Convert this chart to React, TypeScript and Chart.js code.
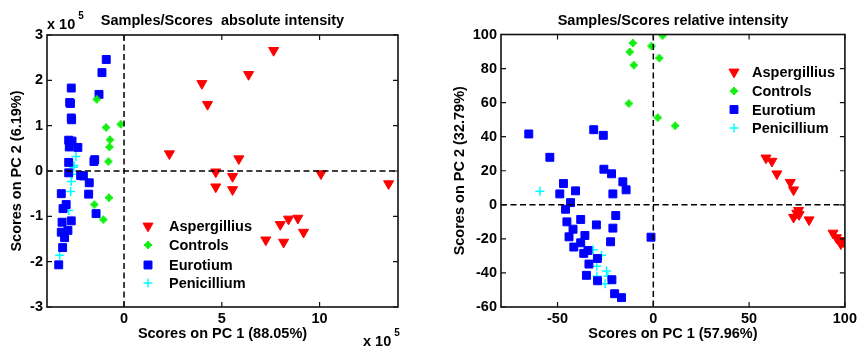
import React, { useEffect, useRef } from 'react';
import { Chart, registerables } from 'chart.js';

Chart.register(...registerables);

// ---------- DATA ----------
const seriesNames = ['Aspergillius', 'Controls', 'Eurotium', 'Penicillium'];

// Absolute intensity (values in units of 10^5)
const absAspergillius: number[][] = [
  [7.65, 2.66], [6.37, 2.13], [3.98, 1.93], [4.27, 1.47], [2.32, 0.38], [5.87, 0.27],
  [4.69, -0.02], [5.55, -0.12], [10.07, -0.06], [4.69, -0.35], [5.55, -0.41], [13.53, -0.28],
  [7.99, -1.18], [8.41, -1.06], [8.89, -1.04], [9.18, -1.35], [7.25, -1.52], [8.16, -1.57],
];
const absControls: number[][] = [
  [-1.4, 1.58], [-0.92, 0.96], [-0.17, 1.03], [-0.72, 0.69], [-0.75, 0.53], [-0.8, 0.21],
  [-0.77, -0.59], [-1.52, -0.74], [-1.06, -1.07],
];
const absEurotium: number[][] = [
  [-0.91, 2.46], [-1.13, 2.17], [-1.28, 1.69], [-2.7, 1.83], [-2.78, 1.51], [-2.74, 1.49],
  [-2.7, 1.17], [-2.68, 1.13], [-2.83, 0.68], [-2.66, 0.66], [-2.8, 0.53], [-2.36, 0.52],
  [-2.83, 0.19], [-1.5, 0.25], [-1.54, 0.21], [-2.83, -0.04], [-2.22, -0.1], [-2.08, -0.11],
  [-1.78, -0.26], [-3.21, -0.5], [-1.81, -0.51], [-2.96, -0.74], [-3.12, -0.83], [-1.43, -0.94],
  [-3.17, -1.13], [-2.7, -1.1], [-3.21, -1.35], [-2.87, -1.31], [-3.04, -1.47], [-3.14, -1.69],
  [-3.34, -2.07],
];
const absPenicillium: number[][] = [
  [-2.46, 0.32], [-2.56, 0.12], [-2.58, 0.08], [-2.66, -0.07], [-2.7, -0.23], [-2.73, -0.45],
  [-2.83, -0.87], [-3.29, -1.86],
];
const absXTicks = [0, 5, 10];
const absYTicks = [-3, -2, -1, 0, 1, 2, 3];

// Relative intensity
const relAspergillius: number[][] = [
  [58.8, 27.5], [61.9, 25.6], [64.5, 18.2], [71.5, 13.2], [73.2, 8.8], [75.8, -3.3],
  [74.9, -4.9], [76.1, -5.7], [73.2, -7.3], [81.3, -8.8], [93.8, -16.6], [95.6, -19.3],
  [96.9, -20.9], [99.1, -21.5], [97.9, -22.9], [99.8, -21.9],
];
const relControls: number[][] = [
  [4.8, 99.4], [-10.7, 95], [-1.0, 93.2], [-12.3, 89.8], [3.1, 86.2], [-10.2, 82],
  [-12.8, 59.5], [2.3, 51.2], [11.4, 46.4],
];
const relEurotium: number[][] = [
  [-65.0, 41.6], [-31.1, 44.1], [-26.1, 40.8], [-54.0, 27.9], [-25.8, 20.9], [-21.8, 18.2],
  [-15.9, 13.5], [-14.2, 8.8], [-46.9, 12.5], [-40.6, 8.2], [-48.8, 6.4], [-21.1, 6.4],
  [-43.2, 1.3], [-45.8, -2.6], [-19.6, -6.3], [-45.1, -10], [-37.9, -8.6], [-29.7, -11.8],
  [-21.1, -13.7], [-41.9, -14.3], [-1.2, -19.0], [-35.7, -18], [-44.0, -18.8], [-37.9, -22.3],
  [-22.3, -21.7], [-41.5, -24.8], [-36.3, -28.5], [-34.1, -26.8], [-29.2, -31.5], [-33.6, -34.8],
  [-34.9, -41.4], [-29.1, -44.6], [-21.6, -44], [-20.2, -52.2], [-16.6, -54.5],
];
const relPenicillium: number[][] = [
  [-59.2, 8.0], [-31.4, -26.4], [-27.0, -29.6], [-29.5, -36], [-24.4, -38.9], [-29.4, -41.9],
  [-23.7, -42], [-25.2, -46.3],
];
const relXTicks = [-50, 0, 50, 100];
const relYTicks = [-60, -40, -20, 0, 20, 40, 60, 80, 100];

// ---------- STYLE ----------
const FONT_FAMILY = '"Liberation Sans", Arial, Helvetica, sans-serif';
const FONT_SIZE = 14.5;
const markerStyles = [
  { pointStyle: 'triangle', rotation: 180, radius: 5.8, color: '#ff0000', fill: true, borderWidth: 1 },
  { pointStyle: 'star', rotation: 0, radius: 4, color: '#11ee11', fill: false, borderWidth: 2 },
  { pointStyle: 'rect', rotation: 0, radius: 5.6, color: '#0000ff', fill: true, borderWidth: 1 },
  { pointStyle: 'cross', rotation: 0, radius: 4.5, color: '#00ffff', fill: false, borderWidth: 1.5 },
];

function drawStar(ctx: CanvasRenderingContext2D, x: number, y: number, r: number, color: string) {
  ctx.save();
  ctx.strokeStyle = color;
  ctx.fillStyle = color;
  ctx.lineCap = 'butt';
  ctx.lineWidth = 2;
  ctx.beginPath();
  ctx.moveTo(x - r, y); ctx.lineTo(x + r, y);
  ctx.moveTo(x, y - r); ctx.lineTo(x, y + r);
  ctx.stroke();
  ctx.lineWidth = 1.6;
  const d = r * 0.6;
  ctx.beginPath();
  ctx.moveTo(x - d, y - d); ctx.lineTo(x + d, y + d);
  ctx.moveTo(x - d, y + d); ctx.lineTo(x + d, y - d);
  ctx.stroke();
  ctx.restore();
}

function makeStarImage(): HTMLCanvasElement {
  const c = document.createElement('canvas');
  c.width = 10;
  c.height = 10;
  const g = c.getContext('2d');
  if (g) drawStar(g, 5, 5, 4, markerStyles[1].color);
  return c;
}

function drawMarker(ctx: CanvasRenderingContext2D, idx: number, x: number, y: number) {
  const m = markerStyles[idx];
  const r = m.radius;
  if (m.pointStyle === 'star') { drawStar(ctx, x, y, r, m.color); return; }
  ctx.save();
  ctx.strokeStyle = m.color;
  ctx.fillStyle = m.color;
  ctx.lineWidth = m.borderWidth;
  ctx.beginPath();
  if (m.pointStyle === 'triangle') {
    ctx.moveTo(x - r * 0.866, y - r * 0.5);
    ctx.lineTo(x + r * 0.866, y - r * 0.5);
    ctx.lineTo(x, y + r);
    ctx.closePath();
    ctx.fill();
    ctx.stroke();
  } else if (m.pointStyle === 'rect') {
    const s = r * Math.SQRT1_2;
    ctx.rect(x - s, y - s, 2 * s, 2 * s);
    ctx.fill();
    ctx.stroke();
  } else {
    ctx.moveTo(x - r, y); ctx.lineTo(x + r, y);
    ctx.moveTo(x, y - r); ctx.lineTo(x, y + r);
    ctx.stroke();
  }
  ctx.restore();
}

type PanelProps = {
  left: number;
  series: number[][][];
  xMin: number; xMax: number; yMin: number; yMax: number;
  xTicks: number[]; yTicks: number[];
  title: string; xTitle: string; yTitle: string;
  padding: { top: number; right: number };
  yAxisWidth: number;
  yTitleX: number;
  legendPos: { markerX: number; textX: number; rows: number[] };
  multiplier: boolean;
};

function Panel(p: PanelProps) {
  const ref = useRef<HTMLCanvasElement | null>(null);
  useEffect(() => {
    if (!ref.current) return;
    const font = { family: FONT_FAMILY, size: FONT_SIZE, weight: 'bold' as const };
    const fontStr = `bold ${FONT_SIZE}px ${FONT_FAMILY}`;
    const starImg = makeStarImage();
    const decor = {
      id: 'matlabDecor',
      afterDraw(chart: any) {
        const ctx: CanvasRenderingContext2D = chart.ctx;
        const a = chart.chartArea;
        const xs = chart.scales.x;
        const ys = chart.scales.y;
        ctx.save();
        // dashed zero lines
        ctx.strokeStyle = '#000';
        ctx.lineWidth = 1.5;
        ctx.setLineDash([6, 3.5]);
        const x0 = xs.getPixelForValue(0);
        const y0 = ys.getPixelForValue(0);
        ctx.beginPath();
        ctx.moveTo(x0, a.top); ctx.lineTo(x0, a.bottom);
        ctx.moveTo(a.left, y0); ctx.lineTo(a.right, y0);
        ctx.stroke();
        ctx.setLineDash([]);
        // box
        ctx.lineWidth = 1.6;
        ctx.strokeStyle = '#111';
        ctx.strokeRect(a.left, a.top, a.right - a.left, a.bottom - a.top);
        // inward ticks
        const tl = 5;
        ctx.lineWidth = 1.2;
        ctx.beginPath();
        p.xTicks.forEach((v) => {
          const px = xs.getPixelForValue(v);
          ctx.moveTo(px, a.bottom); ctx.lineTo(px, a.bottom - tl);
          ctx.moveTo(px, a.top); ctx.lineTo(px, a.top + tl);
        });
        p.yTicks.forEach((v) => {
          const py = ys.getPixelForValue(v);
          ctx.moveTo(a.left, py); ctx.lineTo(a.left + tl, py);
          ctx.moveTo(a.right, py); ctx.lineTo(a.right - tl, py);
        });
        ctx.stroke();
        // texts
        ctx.fillStyle = '#000';
        ctx.font = fontStr;
        ctx.textAlign = 'center';
        ctx.textBaseline = 'middle';
        const cx = (a.left + a.right) / 2;
        ctx.fillText(p.title, cx, 20.5);
        ctx.fillText(p.xTitle, cx, 334);
        ctx.save();
        ctx.translate(p.yTitleX, (a.top + a.bottom) / 2);
        ctx.rotate(-Math.PI / 2);
        ctx.fillText(p.yTitle, 0, 0);
        ctx.restore();
        // multiplier labels
        if (p.multiplier) {
          const drawMult = (x: number, y: number) => {
            ctx.font = fontStr;
            ctx.textAlign = 'left';
            ctx.fillText('x 10', x, y);
            const w = ctx.measureText('x 10').width;
            ctx.font = `bold 10px ${FONT_FAMILY}`;
            ctx.fillText('5', x + w + 3, y - 9);
          };
          drawMult(a.left, 25);
          drawMult(363, 342);
        }
        // legend
        ctx.font = fontStr;
        ctx.textAlign = 'left';
        seriesNames.forEach((name, i) => {
          const y = p.legendPos.rows[i];
          drawMarker(ctx, i, p.legendPos.markerX, y);
          ctx.fillStyle = '#000';
          ctx.fillText(name, p.legendPos.textX, y + 1);
        });
        ctx.restore();
      },
    };
    const datasets = p.series.map((pts, i) => {
      const m = markerStyles[i];
      return {
        label: seriesNames[i],
        data: pts.map(([x, y]) => ({ x, y })),
        pointStyle: (m.pointStyle === 'star' ? starImg : m.pointStyle) as any,
        rotation: m.rotation,
        pointRadius: m.radius,
        borderWidth: m.borderWidth,
        borderColor: m.color,
        backgroundColor: m.fill ? m.color : 'transparent',
        showLine: false,
      };
    });
    const chart = new Chart(ref.current, {
      type: 'scatter',
      data: { datasets },
      options: {
        responsive: false,
        animation: false,
        devicePixelRatio: 1,
        layout: { padding: { top: p.padding.top, right: p.padding.right, left: 0, bottom: 0 } },
        plugins: { legend: { display: false }, title: { display: false }, tooltip: { enabled: false } },
        scales: {
          x: {
            type: 'linear',
            min: p.xMin,
            max: p.xMax,
            afterBuildTicks: (s: any) => { s.ticks = p.xTicks.map((v) => ({ value: v })); },
            afterFit: (s: any) => { s.height = 40; },
            grid: { display: false, drawTicks: false },
            border: { display: false },
            ticks: { font, color: '#000', padding: 3, maxRotation: 0, autoSkip: false },
          },
          y: {
            type: 'linear',
            min: p.yMin,
            max: p.yMax,
            afterBuildTicks: (s: any) => { s.ticks = p.yTicks.map((v) => ({ value: v })); },
            afterFit: (s: any) => { s.width = p.yAxisWidth; },
            grid: { display: false, drawTicks: false },
            border: { display: false },
            ticks: { font, color: '#000', padding: 4, autoSkip: false },
          },
        },
      },
      plugins: [decor],
    });
    return () => chart.destroy();
  }, []);
  return (
    <canvas
      ref={ref}
      width={430}
      height={347}
      style={{ position: 'absolute', left: p.left, top: 0, width: 430, height: 347 }}
    />
  );
}

export default function App() {
  return (
    <div style={{ position: 'fixed', left: 0, top: 0, width: 860, height: 347, background: '#fff' }}>
      <Panel
        left={0}
        series={[absAspergillius, absControls, absEurotium, absPenicillium]}
        xMin={-3.94} xMax={14.01} yMin={-3} yMax={3}
        xTicks={absXTicks} yTicks={absYTicks}
        title="Samples/Scores  absolute intensity"
        xTitle="Scores on PC 1 (88.05%)"
        yTitle="Scores on PC 2 (6.19%)"
        padding={{ top: 35, right: 32 }}
        yAxisWidth={47}
        yTitleX={17}
        legendPos={{ markerX: 148, textX: 169, rows: [226, 245, 265, 283] }}
        multiplier={true}
      />
      <Panel
        left={430}
        series={[relAspergillius, relControls, relEurotium, relPenicillium]}
        xMin={-79.5} xMax={100} yMin={-60} yMax={100}
        xTicks={relXTicks} yTicks={relYTicks}
        title="Samples/Scores relative intensity"
        xTitle="Scores on PC 1 (57.96%)"
        yTitle="Scores on PC 2 (32.79%)"
        padding={{ top: 34.5, right: 12 }}
        yAxisWidth={71}
        yTitleX={30}
        legendPos={{ markerX: 304, textX: 322, rows: [72, 91, 109.5, 128] }}
        multiplier={false}
      />
    </div>
  );
}
